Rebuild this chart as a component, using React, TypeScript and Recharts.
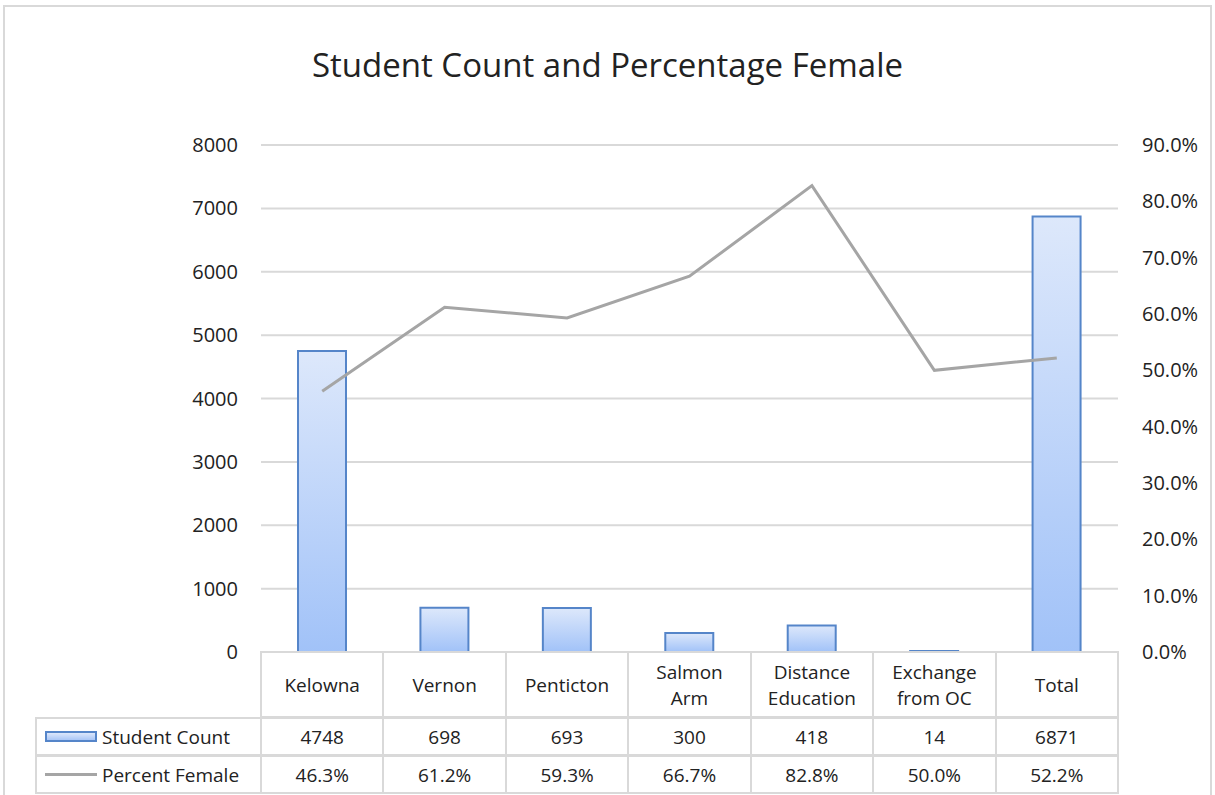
import React from 'react';
import { ComposedChart, Bar, Line, XAxis, YAxis, CartesianGrid } from 'recharts';

const categories = ['Kelowna', 'Vernon', 'Penticton', 'Salmon Arm', 'Distance Education', 'Exchange from OC', 'Total'];
const headerLabels = ['Kelowna', 'Vernon', 'Penticton', 'Salmon\nArm', 'Distance\nEducation', 'Exchange\nfrom OC', 'Total'];
const studentCount = [4748, 698, 693, 300, 418, 14, 6871];
const percentFemale = [0.463, 0.612, 0.593, 0.667, 0.828, 0.5, 0.522];
const countTicks = [0, 1000, 2000, 3000, 4000, 5000, 6000, 7000, 8000];
const percentTicks = [0, 0.1, 0.2, 0.3, 0.4, 0.5, 0.6, 0.7, 0.8, 0.9];

const FONT = '"Open Sans", sans-serif';
const TEXT = '#222';
const GRID = '#d9d9d9';

const PLOT_LEFT = 261;
const PLOT_RIGHT = 1118;
const PLOT_BOTTOM = 652;
const colW = (PLOT_RIGHT - PLOT_LEFT) / categories.length;

const data = categories.map((name, i) => ({
    name,
    count: studentCount[i],
    pct: percentFemale[i],
}));

const cell = (left: number, top: number, width: number, height: number, content: React.ReactNode, align: 'center' | 'left' = 'center') => (
    <div
        style={{
            position: 'absolute',
            left,
            top,
            width,
            height,
            boxSizing: 'border-box',
            border: `2px solid ${GRID}`,
            display: 'flex',
            alignItems: 'center',
            justifyContent: align === 'center' ? 'center' : 'flex-start',
            textAlign: 'center',
            whiteSpace: 'pre-line',
            lineHeight: '26px',
            fontSize: 19,
            color: TEXT,
            fontFamily: FONT,
        }}
    >
        {content}
    </div>
);

const DataTable = () => {
    const rowTops = [PLOT_BOTTOM - 1, 717, 755];
    const rowH = [67, 39, 39];
    const out: React.ReactNode[] = [];
    categories.forEach((_, i) => {
        const x = PLOT_LEFT + i * colW - 1;
        out.push(<React.Fragment key={'h' + i}>{cell(x, rowTops[0], colW + 2, rowH[0], headerLabels[i])}</React.Fragment>);
        out.push(<React.Fragment key={'c' + i}>{cell(x, rowTops[1], colW + 2, rowH[1], String(studentCount[i]))}</React.Fragment>);
        out.push(<React.Fragment key={'p' + i}>{cell(x, rowTops[2], colW + 2, rowH[2], (percentFemale[i] * 100).toFixed(1) + '%')}</React.Fragment>);
    });
    const legendLeft = 35;
    const legendW = PLOT_LEFT - legendLeft + 1;
    out.push(
        <React.Fragment key="lc">
            {cell(legendLeft, rowTops[1], legendW, rowH[1], (
                <>
                    <span style={{ display: 'inline-block', width: 52, height: 11, marginLeft: 8, marginRight: 5, border: '2px solid #5585c9', background: 'linear-gradient(#dce7fb, #a9c6f7)', boxSizing: 'border-box' }} />
                    Student Count
                </>
            ), 'left')}
        </React.Fragment>
    );
    out.push(
        <React.Fragment key="lp">
            {cell(legendLeft, rowTops[2], legendW, rowH[2], (
                <>
                    <span style={{ display: 'inline-block', width: 52, height: 3, marginLeft: 8, marginRight: 5, background: '#a5a5a5' }} />
                    Percent Female
                </>
            ), 'left')}
        </React.Fragment>
    );
    return <>{out}</>;
};

export default function App() {
    return (
        <div style={{ position: 'absolute', left: 0, top: 0, width: 1215, height: 795, overflow: 'hidden', background: '#fff', fontFamily: FONT }}>
            <div style={{ position: 'absolute', left: 3, top: 5, width: 1209, height: 820, border: `2px solid ${GRID}`, boxSizing: 'border-box' }} />
            <div style={{ position: 'absolute', left: 0, top: 42, width: 1215, textAlign: 'center', fontSize: 33, color: TEXT, fontFamily: FONT }}>
                Student Count and Percentage Female
            </div>
            <div style={{ position: 'absolute', left: 0, top: 0 }}>
                <ComposedChart width={1215} height={680} data={data} margin={{ top: 145, right: 0, bottom: 28, left: 0 }} barSize={48}>
                    <defs>
                        <linearGradient id="barFill" x1="0" y1="0" x2="0" y2="1">
                            <stop offset="0%" stopColor="#dde8fb" />
                            <stop offset="100%" stopColor="#a1c2f8" />
                        </linearGradient>
                    </defs>
                    <CartesianGrid yAxisId="left" vertical={false} stroke={GRID} strokeWidth={2} />
                    <XAxis dataKey="name" hide />
                    <YAxis
                        yAxisId="left"
                        orientation="left"
                        width={PLOT_LEFT}
                        domain={[0, 8000]}
                        ticks={countTicks}
                        interval={0}
                        axisLine={false}
                        tickLine={false}
                        tickSize={0}
                        tickMargin={23}
                        tick={{ fill: TEXT, fontSize: 20, fontFamily: FONT }}
                    />
                    <YAxis
                        yAxisId="right"
                        orientation="right"
                        width={1215 - PLOT_RIGHT}
                        domain={[0, 0.9]}
                        ticks={percentTicks}
                        interval={0}
                        axisLine={false}
                        tickLine={false}
                        tickSize={0}
                        tickMargin={24}
                        tickFormatter={(v: number) => (v * 100).toFixed(1) + '%'}
                        tick={{ fill: TEXT, fontSize: 20, fontFamily: FONT }}
                    />
                    <Bar yAxisId="left" dataKey="count" fill="url(#barFill)" stroke="#5585c9" strokeWidth={2} isAnimationActive={false} />
                    <Line yAxisId="right" dataKey="pct" stroke="#a5a5a5" strokeWidth={3} dot={false} activeDot={false} isAnimationActive={false} />
                </ComposedChart>
            </div>
            <DataTable />
        </div>
    );
}
